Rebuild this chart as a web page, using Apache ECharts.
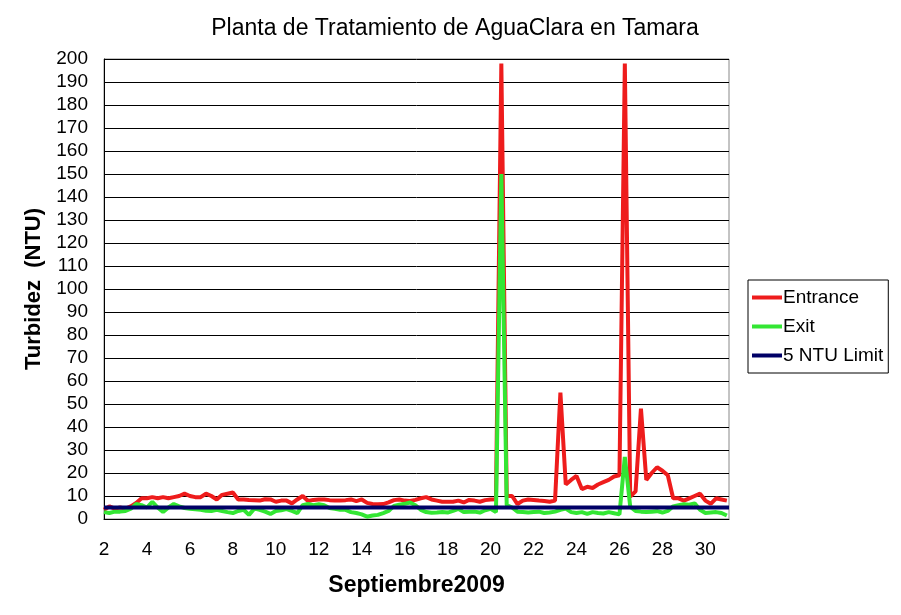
<!DOCTYPE html>
<html>
<head>
<meta charset="utf-8">
<script src="https://cdn.jsdelivr.net/npm/echarts@6/dist/echarts.min.js"></script>
<style>html,body{margin:0;padding:0;background:#fff}#c{width:901px;height:615px}</style>
</head>
<body>
<div id="c"></div>
<script>
// Sample times (day of September 2009), every 6 hours
var times = [
 2.0,2.25,2.5,2.75,3.0,3.25,3.5,3.75,4.0,4.25,4.5,4.75,5.0,5.25,5.5,5.75,
 6.0,6.25,6.5,6.75,7.0,7.25,7.5,7.75,8.0,8.25,8.5,8.75,9.0,9.25,9.5,9.75,
 10.0,10.25,10.5,10.75,11.0,11.25,11.5,11.75,12.0,12.25,12.5,12.75,13.0,13.25,13.5,13.75,
 14.0,14.25,14.5,14.75,15.0,15.25,15.5,15.75,16.0,16.25,16.5,16.75,17.0,17.25,17.5,17.75,
 18.0,18.25,18.5,18.75,19.0,19.25,19.5,19.75,20.0,20.25,20.5,20.75,21.0,21.25,21.5,21.75,
 22.0,22.25,22.5,22.75,23.0,23.25,23.5,23.75,24.0,24.25,24.5,24.75,25.0,25.25,25.5,25.75,
 26.0,26.25,26.5,26.75,27.0,27.25,27.5,27.75,28.0,28.25,28.5,28.75,29.0,29.25,29.5,29.75,
 30.0,30.25,30.5,30.75,31.0
];
var entrance = [
 4,5.5,4.5,5,4.5,5.5,7,9,9,9.5,9,9.5,9,9.5,10,11,
 10,9.5,9.5,11,10,8.5,10.5,11,11.5,8.5,8.5,8.3,8.2,8,8.6,8.5,
 7.5,8,8,6.8,8.5,10,7.8,8.3,8.5,8.5,8.2,8,8,8.2,8.5,7.8,
 8.5,7,6.5,6.4,6.5,7.2,8.2,8.5,8,7.8,8.3,9,9.5,8.5,8,7.5,
 7.5,7.5,8,7.2,8.3,8,7.5,8.2,8.5,8.6,198,10,10,6.5,8,8.5,
 8.3,8,7.8,7.5,8,55,15,17,18.7,13,14,13.5,15,16,17,18.5,
 19,198,9.7,12,48,17,20,22.5,21,19,9,9,8,9,10,11,
 8,6.6,9,8.5,8
];
var exitVals = [
 3,2.6,3.2,3.2,3.5,4.5,6.5,6,5,7.5,5,3,5,6.5,5.5,4.8,
 4.4,4.2,4,3.6,3.5,4,3.5,3,2.6,3.5,4,1.8,4.5,4,3.2,2.2,
 3.5,3.8,4.3,3.5,2.6,6,6.6,6,6.4,6,4.8,4.4,4,4,3,2.6,
 2,1,1.5,1.8,2.6,3.5,5.7,6.2,6.6,7.2,6,4,3,2.7,2.8,3,
 2.8,3.5,4.4,3,3.2,3.2,2.8,3.8,4.4,3,150,6,5,3.2,3,2.8,
 3,3.2,2.6,2.8,3.2,4,4.5,3,2.6,3,2.2,3,2.6,2.4,3,2.5,
 2,27,5.4,3.5,3.2,3,3.2,3.4,2.8,3.5,5.5,6,6.4,6.2,6.8,4,
 2.6,2.8,3,2.6,1.5
];
var limitTimes = [2, 31.1];
var limitValues = [5, 5];
var yTicks = {min: 0, max: 200, interval: 10};
var xTicks = {min: 2, max: 31.1, interval: 2};

function pairs(t, v){ return t.map(function(x,i){ return [x, v[i]]; }); }

var font = '"Liberation Sans", Arial, sans-serif';
var chart = echarts.init(document.getElementById('c'), null, {renderer:'canvas'});
chart.setOption({
  animation: false,
  backgroundColor: '#fff',
  title: {
    text: 'Planta de Tratamiento de AguaClara en Tamara',
    left: 450, top: 12, textAlign: 'center',
    textStyle: {fontFamily: font, fontSize: 23, fontWeight: 'normal', color: '#000'}
  },
  legend: {
    orient: 'vertical', left: 748, top: 280,
    data: ['Entrance','Exit','5 NTU Limit'],
    icon: 'rect', itemWidth: 30, itemHeight: 4, itemGap: 10,
    borderColor: '#000', borderWidth: 1, padding: [8, 5, 8, 4],
    backgroundColor: '#fff',
    textStyle: {fontFamily: font, fontSize: 19, color: '#000', padding: [0,0,0,-4]}
  },
  grid: {left: 104, right: 172, top: 59, bottom: 96, show: true, borderColor: '#888', borderWidth: 1},
  xAxis: {
    type: 'value', min: xTicks.min, max: xTicks.max, interval: xTicks.interval,
    name: 'Septiembre2009', nameLocation: 'middle', nameGap: 55,
    nameTextStyle: {fontFamily: font, fontSize: 23, fontWeight: 'bold', color: '#000'},
    axisLine: {show: true, lineStyle: {color: '#000', width: 1}},
    axisTick: {show: false},
    splitLine: {show: false},
    axisLabel: {showMaxLabel: false, margin: 21, fontFamily: font, fontSize: 19, color: '#000'}
  },
  yAxis: {
    type: 'value', min: yTicks.min, max: yTicks.max, interval: yTicks.interval,
    name: 'Turbidez  (NTU)', nameLocation: 'middle', nameGap: 58, nameRotate: 90,
    nameTextStyle: {fontFamily: font, fontSize: 22, fontWeight: 'bold', color: '#000'},
    axisLine: {show: true, lineStyle: {color: '#000', width: 1}},
    axisTick: {show: false},
    splitLine: {show: true, lineStyle: {color: '#000', width: 1}},
    axisLabel: {margin: 16, fontFamily: font, fontSize: 19, color: '#000'}
  },
  series: [
    {name: 'Entrance', type: 'line', data: pairs(times, entrance), showSymbol: false,
     color: '#ee1c1c', lineStyle: {width: 4, color: '#ee1c1c'}},
    {name: 'Exit', type: 'line', data: pairs(times, exitVals), showSymbol: false,
     color: '#33e633', lineStyle: {width: 4, color: '#33e633'}},
    {name: '5 NTU Limit', type: 'line', data: pairs(limitTimes, limitValues), showSymbol: false,
     color: '#000066', lineStyle: {width: 4, color: '#000066'}}
  ]
});
</script>
</body>
</html>
